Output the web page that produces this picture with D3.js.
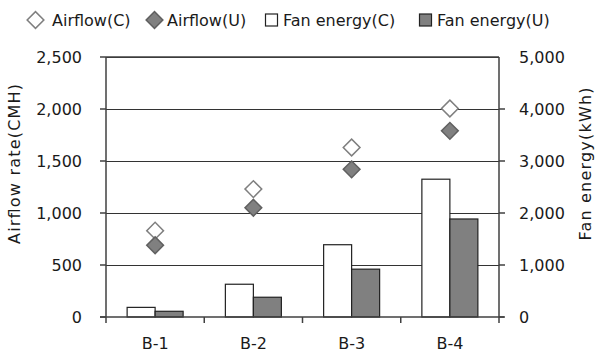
<!DOCTYPE html>
<html><head><meta charset="utf-8">
<script src="https://cdn.jsdelivr.net/npm/d3@7"></script>
<style>
html,body{margin:0;padding:0;background:#fff;}
svg{display:block;font-family:"DejaVu Sans",sans-serif;}
</style></head>
<body><svg id="c" width="600" height="352"></svg>
<script>
const categories = ["B-1","B-2","B-3","B-4"];
const airflowC = [830, 1230, 1630, 2005];
const airflowU = [690, 1050, 1420, 1790];
const energyC = [185, 630, 1390, 2650];
const energyU = [110, 380, 920, 1885];
const leftTicks = [0,500,1000,1500,2000,2500];
const rightTicks = [0,1000,2000,3000,4000,5000];
const legendLabels = ["Airflow(C)","Airflow(U)","Fan energy(C)","Fan energy(U)"];

const svg = d3.select("#c");
const L=106, R=499, T=57, B=317;
const x = d3.scaleBand().domain(categories).range([L,R]).paddingInner(0.43).paddingOuter(0.215);
const xs = d3.scaleBand().domain(["C","U"]).range([0,x.bandwidth()]);
const yL = d3.scaleLinear().domain([0,2500]).range([B,T]);
const yR = d3.scaleLinear().domain([0,5000]).range([B,T]);
const txt = "#1a1a1a", axc = "#404040";

// gridlines
svg.append("g").selectAll("line").data(leftTicks.filter(d=>d>0)).join("line")
  .attr("x1",L).attr("x2",R).attr("y1",d=>yL(d)+0.5).attr("y2",d=>yL(d)+0.5)
  .attr("stroke","#333").attr("stroke-width",1);

// bars
const bars = svg.append("g");
categories.forEach((c,i)=>{
  [["C",energyC[i],"#ffffff"],["U",energyU[i],"#808080"]].forEach(([k,v,f])=>{
    bars.append("rect").attr("x",x(c)+xs(k)).attr("width",xs.bandwidth())
      .attr("y",yR(v)).attr("height",B-yR(v))
      .attr("fill",f).attr("stroke","#222").attr("stroke-width",1.2);
  });
});

// axes
const ax = svg.append("g").attr("stroke",axc).attr("stroke-width",1.5);
ax.append("line").attr("x1",L).attr("x2",L).attr("y1",T).attr("y2",B);
ax.append("line").attr("x1",R).attr("x2",R).attr("y1",T).attr("y2",B);
ax.selectAll(".lt").data(leftTicks).join("line").attr("x1",L-6).attr("x2",L)
  .attr("y1",d=>yL(d)).attr("y2",d=>yL(d));
ax.selectAll(".rt").data(rightTicks.filter(d=>d<5000)).join("line").attr("x1",R).attr("x2",R+6)
  .attr("y1",d=>yR(d)).attr("y2",d=>yR(d));
ax.append("line").attr("x1",L-6).attr("x2",R+5).attr("y1",B).attr("y2",B);
ax.append("line").attr("x1",L).attr("x2",R).attr("y1",T).attr("y2",T);
const step = x.step(), pin = step*x.paddingInner()/2;
const bounds = categories.map(c=>x(c)-pin).concat([x(categories[3])+x.bandwidth()+pin]);
ax.selectAll(".xt").data(bounds).join("line").attr("x1",d=>d).attr("x2",d=>d).attr("y1",B).attr("y2",B+6);

// markers
const diamond = d3.symbol().type(d3.symbolSquare).size(140);
const mk = svg.append("g");
categories.forEach((c,i)=>{
  const cx = x(c)+x.bandwidth()/2;
  mk.append("path").attr("d",diamond()).attr("transform",`translate(${cx},${yL(airflowC[i])}) rotate(45)`)
    .attr("fill","#fff").attr("stroke","#7f7f7f").attr("stroke-width",1.5);
  mk.append("path").attr("d",diamond()).attr("transform",`translate(${cx},${yL(airflowU[i])}) rotate(45)`)
    .attr("fill","#808080").attr("stroke","#606060").attr("stroke-width",1.5);
});

// tick labels
const fs = 16;
svg.append("g").selectAll("text").data(leftTicks).join("text")
  .attr("x",82).attr("y",d=>yL(d)).attr("dy","0.36em").attr("text-anchor","end")
  .attr("font-size",fs).attr("fill",txt).text(d=>d3.format(",")(d));
svg.append("g").selectAll("text").data(rightTicks).join("text")
  .attr("x",519).attr("y",d=>yR(d)).attr("dy","0.36em").attr("text-anchor","start")
  .attr("font-size",fs).attr("fill",txt).text(d=>d3.format(",")(d));
svg.append("g").selectAll("text").data(categories).join("text")
  .attr("x",c=>x(c)+x.bandwidth()/2).attr("y",343).attr("dy","0.36em").attr("text-anchor","middle")
  .attr("font-size",fs).attr("fill",txt).text(d=>d);

// axis titles
svg.append("text").attr("transform","translate(14,164) rotate(-90)").attr("text-anchor","middle")
  .attr("dy","0.36em").attr("font-size",fs).attr("fill",txt)
  .attr("textLength",160).attr("lengthAdjust","spacing").text("Airflow rate(CMH)");
svg.append("text").attr("transform","translate(585,164) rotate(-90)").attr("text-anchor","middle")
  .attr("dy","0.36em").attr("font-size",fs).attr("fill",txt)
  .attr("textLength",153).attr("lengthAdjust","spacing").text("Fan energy(kWh)");

// legend
const lg = svg.append("g");
const lx = [{sx:35.5,tx:52},{sx:154.5,tx:167},{sx:271.5,tx:283},{sx:425.5,tx:437}];
const ly = 20;
lg.append("path").attr("d",diamond()).attr("transform",`translate(${lx[0].sx},${ly}) rotate(45)`)
  .attr("fill","#fff").attr("stroke","#7f7f7f").attr("stroke-width",1.5);
lg.append("path").attr("d",diamond()).attr("transform",`translate(${lx[1].sx},${ly}) rotate(45)`)
  .attr("fill","#808080").attr("stroke","#606060").attr("stroke-width",1.5);
lg.append("rect").attr("x",lx[2].sx-6).attr("y",ly-6).attr("width",12).attr("height",12)
  .attr("fill","#fff").attr("stroke","#222").attr("stroke-width",1.2);
lg.append("rect").attr("x",lx[3].sx-6).attr("y",ly-6).attr("width",12).attr("height",12)
  .attr("fill","#808080").attr("stroke","#222").attr("stroke-width",1.2);
lg.selectAll("text").data(legendLabels).join("text")
  .attr("x",(d,i)=>lx[i].tx).attr("y",ly).attr("dy","0.36em")
  .attr("font-size",fs).attr("fill",txt).text(d=>d);
</script></body></html>
